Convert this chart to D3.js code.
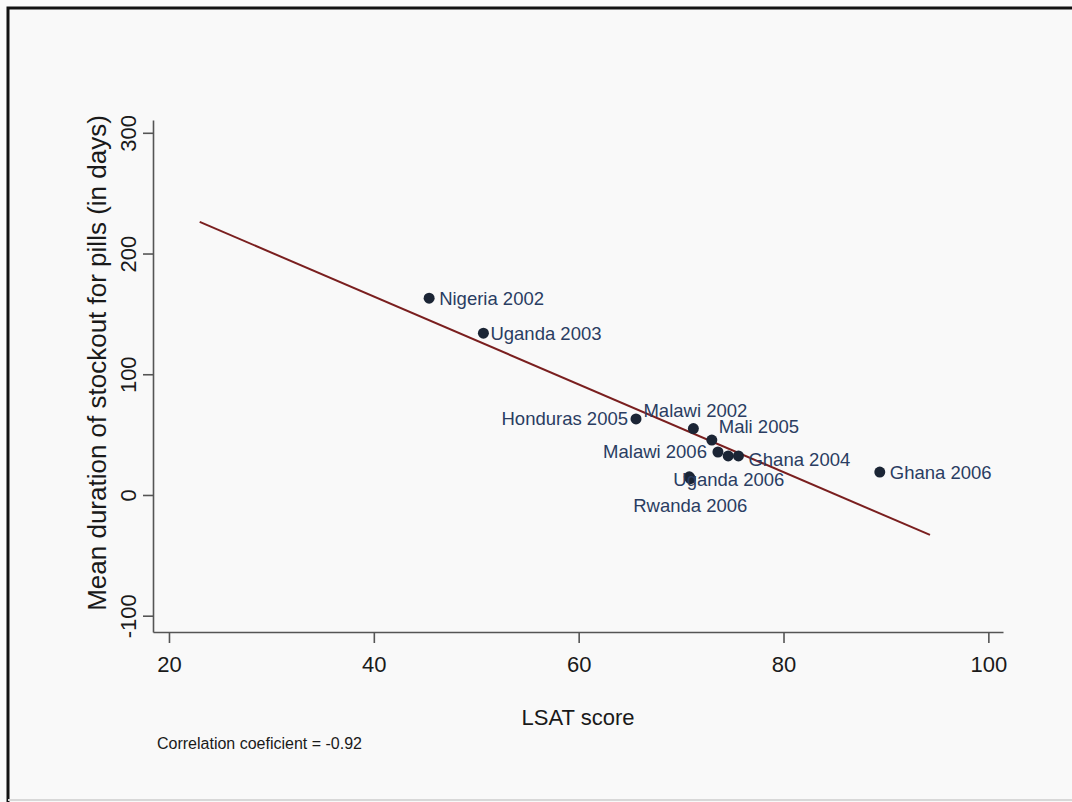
<!DOCTYPE html>
<html>
<head>
<meta charset="utf-8">
<script src="https://cdn.jsdelivr.net/npm/d3@7"></script>
<style>
  body { margin: 0; background: #ffffff; }
  text { font-family: "Liberation Sans", Arial, sans-serif; }
</style>
</head>
<body>
<div id="chart"></div>
<script>
// data
const countries = ["Nigeria 2002", "Uganda 2003", "Honduras 2005", "Malawi 2002", "Mali 2005",
    "Malawi 2006", "", "Ghana 2004", "Uganda 2006", "Rwanda 2006", "Ghana 2006"];
const lsatScore = [45.4, 50.7, 65.6, 71.2, 73.0, 73.6, 74.6, 75.6, 70.8, 70.9, 89.4];
const stockoutDays = [163, 134, 63, 55, 45.5, 35.6, 32.3, 32.3, 15, 13.5, 19];
// fitted line end points
const fitX = [23.0, 94.3];
const fitY = [226.2, -33.1];
const xTicks = [20, 40, 60, 80, 100];
const yTicks = [-100, 0, 100, 200, 300];

// label placement (dx, dy, anchor), like stata's mlabposition
const labelPlace = {
    "Nigeria 2002": [10, 0, "start"],
    "Uganda 2003": [7, 0, "start"],
    "Honduras 2005": [-8, 0, "end"],
    "Malawi 2002": [2, -18, "middle"],
    "Mali 2005": [7, -14, "start"],
    "Malawi 2006": [-11, 0, "end"],
    "Ghana 2004": [10, 4, "start"],
    "Uganda 2006": [-16, 3, "start"],
    "Rwanda 2006": [0, 27, "middle"],
    "Ghana 2006": [10, 0, "start"]
};

const W = 1072, H = 802;
const plot = {left: 153, right: 1003, top: 120, bottom: 632};

const svg = d3.select("#chart")
    .append("svg")
    .attr("width", W)
    .attr("height", H);

// background and frame
svg.append("rect")
    .attr("width", W).attr("height", H)
    .attr("fill", "#f9f9f9");
svg.append("path")
    .attr("d", `M8,${H} L8,8 L${W},8`)
    .attr("fill", "none")
    .attr("stroke", "#111")
    .attr("stroke-width", 3);
svg.append("line")
    .attr("x1", 8).attr("x2", W)
    .attr("y1", H - 2).attr("y2", H - 2)
    .attr("stroke", "#d8d8d8")
    .attr("stroke-width", 2);

const x = d3.scaleLinear()
    .domain([18.44, 101.43])
    .range([plot.left, plot.right]);
const y = d3.scaleLinear()
    .domain([-113.5, 310.6])
    .range([plot.bottom, plot.top]);

// X axis
const gx = svg.append("g")
    .attr("transform", `translate(0,${plot.bottom})`)
    .call(d3.axisBottom(x).tickValues(xTicks).tickFormat(d => String(d))
        .tickSize(11).tickSizeOuter(0).tickPadding(13));
gx.selectAll("text")
    .style("font-size", "22px")
    .attr("fill", "#1a1a1a");

// Y axis, stata style rotated labels
const gy = svg.append("g")
    .attr("transform", `translate(${plot.left},0)`)
    .call(d3.axisLeft(y).tickValues(yTicks).tickFormat(d => String(d))
        .tickSize(10).tickSizeOuter(0));
gy.selectAll("text")
    .attr("transform", "rotate(-90)")
    .attr("x", 0)
    .attr("y", -17)
    .attr("dy", 0)
    .attr("text-anchor", "middle")
    .style("font-size", "22px")
    .attr("fill", "#1a1a1a");

svg.selectAll(".domain, .tick line")
    .attr("stroke", "#555")
    .attr("stroke-width", 1.6);

// fitted line
svg.append("path")
    .datum(d3.zip(fitX, fitY))
    .attr("d", d3.line().x(d => x(d[0])).y(d => y(d[1])))
    .attr("fill", "none")
    .attr("stroke", "#7a1f1f")
    .attr("stroke-width", 2);

// points
svg.append("g")
    .selectAll("circle")
    .data(d3.range(countries.length))
    .join("circle")
    .attr("cx", i => x(lsatScore[i]))
    .attr("cy", i => y(stockoutDays[i]))
    .attr("r", 5.5)
    .attr("fill", "#1b2535");

// point labels
svg.append("g")
    .selectAll("text")
    .data(d3.range(countries.length).filter(i => countries[i] !== ""))
    .join("text")
    .attr("x", i => x(lsatScore[i]) + labelPlace[countries[i]][0])
    .attr("y", i => y(stockoutDays[i]) + labelPlace[countries[i]][1])
    .attr("dy", "0.35em")
    .attr("text-anchor", i => labelPlace[countries[i]][2])
    .style("font-size", "18.5px")
    .attr("fill", "#2a3d62")
    .text(i => countries[i]);

// axis titles
svg.append("text")
    .attr("x", (plot.left + plot.right) / 2)
    .attr("y", 725)
    .attr("text-anchor", "middle")
    .style("font-size", "22px")
    .attr("fill", "#1a1a1a")
    .text("LSAT score");
svg.append("text")
    .attr("transform", "translate(106,363) rotate(-90)")
    .attr("text-anchor", "middle")
    .style("font-size", "26px")
    .attr("fill", "#1a1a1a")
    .text("Mean duration of stockout for pills (in days)");

// note
svg.append("text")
    .attr("x", 157)
    .attr("y", 749)
    .style("font-size", "16px")
    .attr("fill", "#1a1a1a")
    .text("Correlation coeficient = -0.92");
</script>
</body>
</html>
